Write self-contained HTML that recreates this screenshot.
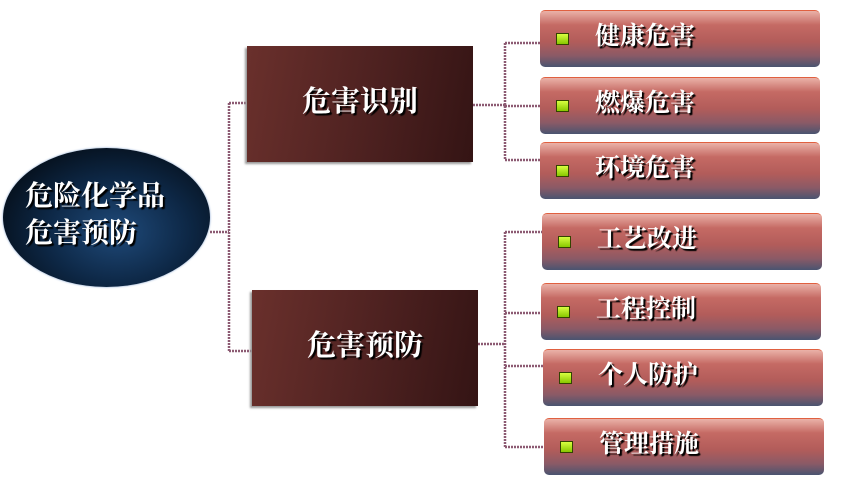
<!DOCTYPE html>
<html><head><meta charset="utf-8"><style>
body{margin:0;width:843px;height:490px;background:#fff;position:relative;overflow:hidden;font-family:"Liberation Serif","Noto Serif CJK SC","Noto Sans CJK SC",serif;}
.ell{position:absolute;left:3px;top:148px;width:207px;height:139px;border-radius:50%;background:radial-gradient(ellipse at 55% 60%,#1f4a7a 0%,#0d2745 45%,#000 100%);box-shadow:0 0 2px #7a9ccc;}
.ell div{position:absolute;left:22px;top:30px;color:#fff;font-size:28px;line-height:37px;text-shadow:2px 2px 1px #000;font-weight:bold;}
.mid{position:absolute;width:226px;height:116px;background:linear-gradient(100deg,#6a302c 0%,#4d2120 55%,#341414 100%);box-shadow:-2px 2px 2px #999;color:#fff;font-size:29px;font-weight:bold;text-align:center;line-height:112px;text-shadow:2px 2px 1px #000;}
.leaf{position:absolute;width:280px;height:57px;border-radius:5px;border-top:1px solid #e06040;background:linear-gradient(180deg,#eab2a8 0%,#c56a64 25%,#b25c5a 55%,#8a5a66 80%,#4a5470 100%);box-sizing:border-box;}
.leaf .sq{position:absolute;left:16px;top:22px;width:11px;height:10px;background:linear-gradient(#d8ff40,#88c800);border:1px solid #334400;}
.leaf .t{position:absolute;left:55px;top:0;line-height:52px;color:#fff;font-size:25px;font-weight:bold;text-shadow:2px 2px 1px #000;}
svg{position:absolute;left:0;top:0}
</style></head><body>
<svg width="843" height="490"><g fill="none" stroke="#8c5a72" stroke-width="2.5" stroke-dasharray="2 1">
<path d="M210 232H229M229 103V351M229 103H247M229 351H252"/>
<path d="M473 105H505M505 43V160M505 43H540M505 106H540M505 160H540"/>
<path d="M478 344H505M505 232V447M505 232H542M505 313H541M505 366H543M505 447H544"/>
</g></svg>
<div class="ell"><div>危险化学品<br>危害预防</div></div>
<div class="mid" style="left:247px;top:46px">危害识别</div>
<div class="mid" style="left:252px;top:290px">危害预防</div>
<div class="leaf" style="left:540px;top:10px"><div class="sq"></div><div class="t">健康危害</div></div>
<div class="leaf" style="left:540px;top:77px"><div class="sq"></div><div class="t">燃爆危害</div></div>
<div class="leaf" style="left:540px;top:142px"><div class="sq"></div><div class="t">环境危害</div></div>
<div class="leaf" style="left:542px;top:213px"><div class="sq"></div><div class="t">工艺改进</div></div>
<div class="leaf" style="left:541px;top:283px"><div class="sq"></div><div class="t">工程控制</div></div>
<div class="leaf" style="left:543px;top:349px"><div class="sq"></div><div class="t">个人防护</div></div>
<div class="leaf" style="left:544px;top:418px"><div class="sq"></div><div class="t">管理措施</div></div>
</body></html>
